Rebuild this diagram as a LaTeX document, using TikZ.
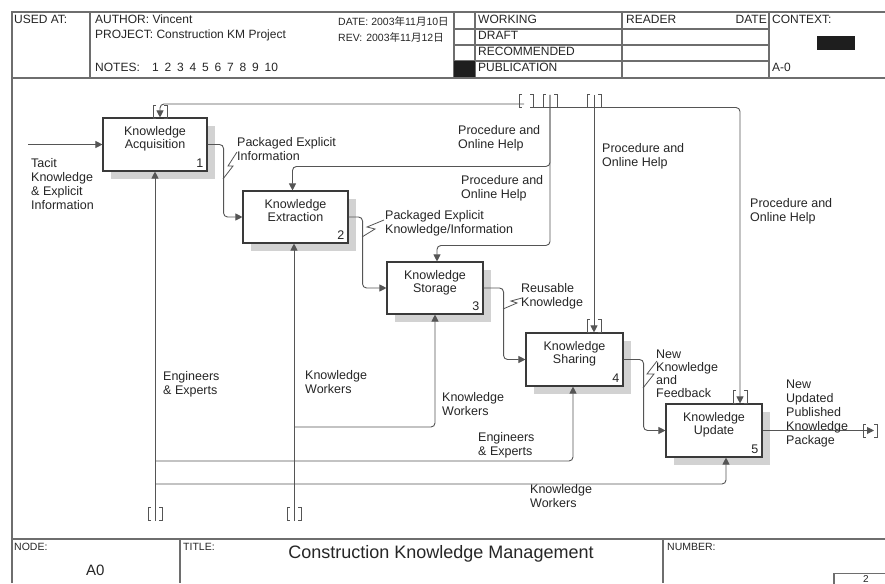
\documentclass[tikz,border=0pt]{standalone}
\usepackage{fontspec}
\setmainfont{Liberation Sans}
\newfontfamily\cjk{Noto Sans CJK SC}
\usetikzlibrary{arrows.meta,shadows}
\definecolor{ln}{HTML}{555555}
\definecolor{bx}{HTML}{3A3A3A}
\definecolor{sh}{HTML}{D2D2D2}
\definecolor{fr}{HTML}{6E6E6E}
\definecolor{txt}{HTML}{262626}
\definecolor{blk}{HTML}{1E1E1E}
\tikzset{
  tunl/.style={draw=ln, line width=0.8pt},
  tun/.pic={\draw[tunl] (-4,-6.5) -- (-7,-6.5) -- (-7,6.5) -- (-4,6.5)
                        (4,-6.5) -- (7,-6.5) -- (7,6.5) -- (4,6.5);}
}
\begin{document}
\begin{tikzpicture}[x=1pt,y=-1pt,
  every node/.style={inner sep=0pt, text=txt},
  lab/.style={anchor=north west, align=left, font=\fontsize{12.5}{14}\selectfont},
  hdr/.style={anchor=north west, font=\fontsize{12}{14}\selectfont},
  small/.style={anchor=north west, font=\fontsize{10.5}{12}\selectfont},
  foot/.style={anchor=north west, font=\fontsize{10.5}{12}\selectfont},
  frame/.style={draw=fr, line width=1.1pt},
  kbox/.style={draw=bx, fill=white, line width=1.1pt, minimum height=53pt,
     drop shadow={shadow xshift=8pt, shadow yshift=-8pt, fill=sh, opacity=1}},
  btxt/.style={anchor=north, align=center, font=\fontsize{12.5}{13}\selectfont},
  bnum/.style={anchor=south east, font=\fontsize{12.5}{13}\selectfont},
  flow/.style={draw=ln, line width=0.9pt, rounded corners=4pt, -{Triangle[length=7pt,width=7pt]}},
  squig/.style={draw=ln, line width=0.8pt}
]
\useasboundingbox (0,0) rectangle (885,583);
\fill[white] (0,0) rectangle (885,583);

% ---------- frame / header ----------
\draw[frame] (12,583) -- (12,12) -- (885,12);
\draw[frame] (12,78) -- (885,78);
\draw[frame] (90,12) -- (90,78);
\draw[frame] (454,12) -- (454,78);
\draw[frame] (475,12) -- (475,78);
\draw[frame] (622,12) -- (622,78);
\draw[frame] (769,12) -- (769,78);
\draw[frame] (454,29) -- (769,29);
\draw[frame] (454,45) -- (769,45);
\draw[frame] (454,61) -- (769,61);
\fill[blk] (454,61) rectangle (475,77.5);
\fill[blk] (817,36) rectangle (855,50);

\node[hdr] (usedat) at (14,15) {USED AT:};
\node[hdr] (author) at (95,15) {AUTHOR: Vincent};
\node[hdr] (project) at (95,30) {PROJECT: Construction KM Project};
\node[hdr] (notes) at (95,63) {NOTES:};
\foreach \n [count=\i] in {1,...,10}
  \node[hdr] (note\i) at (152+12.5*\i-12.5,63) {\n};
\node[small] (date) at (338,16.5) {DATE: 2003{\cjk 年}11{\cjk 月}10{\cjk 日}};
\node[small] (rev) at (338,32.5) {REV:\hspace{4pt}2003{\cjk 年}11{\cjk 月}12{\cjk 日}};
\node[hdr] (working) at (478,15) {WORKING};
\node[hdr] (draft) at (478,31) {DRAFT};
\node[hdr] (recom) at (478,47) {RECOMMENDED};
\node[hdr] (publ) at (478,63) {PUBLICATION};
\node[hdr] (reader) at (626,15) {READER};
\node[hdr, anchor=north east] (rdate) at (767,15) {DATE};
\node[hdr] (context) at (772,15) {CONTEXT:};
\node[hdr] (azero) at (772,63) {A-0};

% ---------- footer ----------
\draw[frame] (12,539) -- (885,539);
\draw[frame] (180,539) -- (180,583);
\draw[frame] (663,539) -- (663,583);
\draw[frame] (834,586) -- (834,573.5) -- (886,573.5);
\node[foot] (nodelbl) at (14,543) {NODE:};
\node[anchor=north west, font=\fontsize{15}{17}\selectfont] (anode) at (86,565) {A0};
\node[foot] (titlelbl) at (183,543) {TITLE:};
\node[anchor=north, font=\fontsize{18}{20}\selectfont] (title) at (441,545) {Construction Knowledge Management};
\node[foot] (numlbl) at (667,543) {NUMBER:};
\node[anchor=north, font=\fontsize{10}{12}\selectfont] (pnum) at (866,575) {2};

% ---------- activity boxes ----------
\node[kbox, minimum width=104pt] (b1) at (155,144.5) {};
\node[kbox, minimum width=105pt, minimum height=52pt] (b2) at (295.5,217) {};
\node[kbox, minimum width=96pt, minimum height=52pt] (b3) at (435,288) {};
\node[kbox, minimum width=97pt] (b4) at (574.5,359.5) {};
\node[kbox, minimum width=96pt] (b5) at (714,430.5) {};

\node[btxt] (b1t) at ([yshift=-8.5pt]b1.north) {Knowledge\\Acquisition};
\node[btxt] (b2t) at ([yshift=-8.5pt]b2.north) {Knowledge\\Extraction};
\node[btxt] (b3t) at ([yshift=-8.5pt]b3.north) {Knowledge\\Storage};
\node[btxt] (b4t) at ([yshift=-8.5pt]b4.north) {Knowledge\\Sharing};
\node[btxt] (b5t) at ([yshift=-8.5pt]b5.north) {Knowledge\\Update};
\node[bnum] (b1n) at ([xshift=-4pt,yshift=4pt]b1.south east) {1};
\node[bnum] (b2n) at ([xshift=-4pt,yshift=4pt]b2.south east) {2};
\node[bnum] (b3n) at ([xshift=-4pt,yshift=4pt]b3.south east) {3};
\node[bnum] (b4n) at ([xshift=-4pt,yshift=4pt]b4.south east) {4};
\node[bnum] (b5n) at ([xshift=-4pt,yshift=4pt]b5.south east) {5};

% ---------- inputs / outputs ----------
\coordinate (in1) at (28,144.5);
\draw[flow] (in1) -- (b1.west);
\draw[flow] (b1.east) -- ++(16,0) |- (b2.west);
\draw[flow] (b2.east) -- ++(14,0) |- (b3.west);
\draw[flow] (b3.east) -- ++(20,0) |- (b4.west);
\draw[flow] (b4.east) -- ++(20,0) |- (b5.west);
\coordinate (out1) at (874,430.5);
\draw[flow] (b5.east) -- (out1);
\pic at (870,431) {tun};

% ---------- controls ----------
\coordinate (t1) at (524,104);
\draw[flow] (t1) -| ([xshift=5pt]b1.north);
\coordinate (t2) at (531,107.5);
\draw[flow] (t2) -| ([xshift=26pt]b5.north);
\coordinate (t3) at (550,95);
\draw[flow] (t3) |- ([xshift=-3pt,yshift=24pt]b2.north) -- ([xshift=-3pt]b2.north);
\draw[flow] (t3) |- ([xshift=2pt,yshift=16pt]b3.north) -- ([xshift=2pt]b3.north);
\coordinate (t4) at (594,95);
\draw[flow] (t4) -- (t4 |- b4.north);
\pic at (160,111.5) {tun};
\pic at (526,100.5) {tun};
\pic at (550,100.5) {tun};
\pic at (594,100.5) {tun};
\pic at (594,326) {tun};
\pic at (740,397) {tun};

% ---------- mechanisms ----------
\coordinate (m1) at (155,521);
\draw[flow] (m1) -- (b1.south);
\coordinate (m2) at (294,521);
\draw[flow] (m2) -- (m2 |- b2.south);
\coordinate (j1) at (294,427);
\draw[flow] (j1) -| (b3.south);
\coordinate (j2) at (155,461);
\draw[flow] (j2) -| ([xshift=-1.5pt]b4.south);
\coordinate (j3) at (155,484);
\draw[flow] (j3) -| ([xshift=12pt]b5.south);
\pic at (155,514) {tun};
\pic at (294,514) {tun};

% ---------- squiggles ----------
\draw[squig] (223,179) -- (233,166) -- (228,166) -- (237,152);
\draw[squig] (362,237) -- (375,229) -- (367,227) -- (384,220);
\draw[squig] (503,309) -- (517,303) -- (511,301) -- (522,298);
\draw[squig] (643,388) -- (654,374) -- (647,374) -- (657,361);

% ---------- labels ----------
\node[lab] (l1) at (31,158) {Tacit\\Knowledge\\\& Explicit\\Information};
\node[lab] (l2) at (237,137) {Packaged Explicit\\Information};
\node[lab] (l3) at (458,125) {Procedure and\\Online Help};
\node[lab] (l4) at (461,175) {Procedure and\\Online Help};
\node[lab] (l5) at (385,210) {Packaged Explicit\\Knowledge/Information};
\node[lab] (l6) at (602,143) {Procedure and\\Online Help};
\node[lab] (l7) at (750,198) {Procedure and\\Online Help};
\node[lab] (l8) at (521,283) {Reusable\\Knowledge};
\node[lab, font=\fontsize{12.5}{12.8}\selectfont] (l9) at (656,350) {New\\Knowledge\\and\\Feedback};
\node[lab] (l10) at (786,380) {New\\Updated\\Published\\Knowledge\\Package};
\node[lab] (l11) at (163,371) {Engineers\\\& Experts};
\node[lab] (l12) at (305,370) {Knowledge\\Workers};
\node[lab] (l13) at (442,392) {Knowledge\\Workers};
\node[lab] (l14) at (478,432) {Engineers\\\& Experts};
\node[lab] (l15) at (530,484) {Knowledge\\Workers};
\end{tikzpicture}
\end{document}
